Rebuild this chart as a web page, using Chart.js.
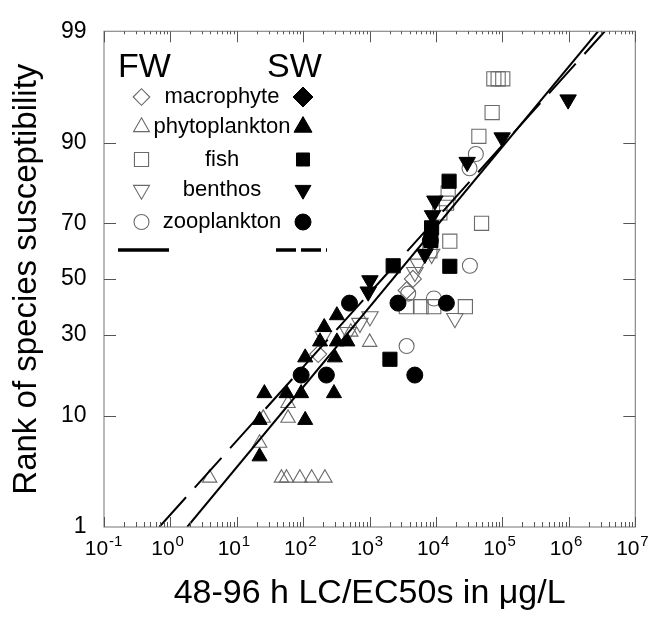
<!DOCTYPE html>
<html>
<head>
<meta charset="utf-8">
<script src="https://cdn.jsdelivr.net/npm/chart.js@4.4.1/dist/chart.umd.min.js"></script>
<style>
  body { margin: 0; background: #fff; }
  #wrap { width: 657px; height: 621px; }
</style>
</head>
<body>
<div id="wrap"><canvas id="ssd" width="657" height="621"></canvas></div>
<script>
/* Species sensitivity: FW (open) vs SW (filled), probit rank axis */

const xTickValues = [0.1, 1, 10, 100, 1e3, 1e4, 1e5, 1e6, 1e7];
const xTickExponents = ['-1', '0', '1', '2', '3', '4', '5', '6', '7'];
const yTickValues = [1, 10, 30, 50, 70, 90, 99];

// x = LC/EC50 in ug/L, y = rank of species susceptibility (%)
const fwMacrophyteX = [168, 3600, 4480];
const fwMacrophyteY = [24.1, 45.8, 50.1];

const fwPhytoX = [3.9, 22, 25, 47, 56, 59, 59, 89, 134, 212, 520, 1000];
const fwPhytoY = [3.1, 6.2, 9.6, 3.1, 3.1, 9.6, 12.2, 3.1, 3.1, 3.1, 31, 27.7];
const swPhytoX = [22, 22, 26, 56, 93, 107, 107, 179, 207, 290, 299, 321, 321, 462];
const swPhytoY = [4.8, 9.3, 14.2, 14.2, 14.2, 9.3, 23.1, 27.9, 32.6, 14.2, 23.1, 36.7, 27.9, 27.9];

const fwFishX = [3570, 5950, 8070, 9230, 11400, 14400, 15200, 16100, 27600, 44100, 48400, 69800, 74100, 86000, 101000];
const fwFishY = [39.8, 39.8, 60.5, 39.8, 73.3, 76.2, 79.0, 63.9, 39.8, 91.0, 70.0, 94.1, 97.0, 97.0, 97.0];
const swFishX = [2020, 2260, 8350, 8560, 15700, 16100];
const swFishY = [22.6, 55.0, 64.2, 68.5, 82.1, 54.8];

const fwBenthosX = [200, 475, 713, 1010, 4800, 5380, 8560, 19200];
const fwBenthosY = [29.7, 30.9, 34.0, 36.3, 52.6, 55.7, 59.3, 35.7];
const swBenthosX = [951, 1010, 6780, 8850, 9590, 29400, 98800, 973000];
const swBenthosY = [45.3, 49.5, 59.3, 72.5, 76.9, 86.4, 90.8, 95.4];

const fwZooX = [3600, 3800, 9270, 32300, 31900, 39700];
const fwZooY = [26.5, 44.6, 42.8, 55.0, 85.1, 88.0];
const swZooX = [93, 223, 497, 2670, 4780, 8200, 14300];
const swZooY = [18.4, 18.4, 41.1, 41.1, 18.4, 64.1, 41.1];

// fitted distributions, end points at the 1% and 99% ranks
const fwLineX = [1.79, 2.75e6];
const fwLineY = [1, 99];
const swLineX = [0.68, 3.47e6];
const swLineY = [1, 99];

const legendRows = [
    { label: 'macrophyte', style: 'rectRot', rot: 0, openR: 8.3, fillR: 10 },
    { label: 'phytoplankton', style: 'triangle', rot: 0, openR: 9.2, fillR: 10.4 },
    { label: 'fish', style: 'rect', rot: 0, openR: 10, fillR: 9.2 },
    { label: 'benthos', style: 'triangle', rot: 180, openR: 9.2, fillR: 9.2 },
    { label: 'zooplankton', style: 'circle', rot: 0, openR: 7.5, fillR: 8 },
];

// inverse normal CDF (Acklam) for the probability axis
function probit(p) {
    const a = [-39.69683028665376, 220.9460984245205, -275.9285104469687, 138.357751867269, -30.66479806614716, 2.506628277459239];
    const b = [-54.47609879822406, 161.5858368580409, -155.6989798598866, 66.80131188771972, -13.28068155288572];
    const c = [-0.007784894002430293, -0.3223964580411365, -2.400758277161838, -2.549671464403861, 4.374664141464968, 2.938163982698783];
    const d = [0.007784695709041462, 0.3224671290700398, 2.445134137142996, 3.754408661907416];
    const pl = 0.02425;
    let q, r;
    if (p < pl) {
        q = Math.sqrt(-2 * Math.log(p));
        return (((((c[0] * q + c[1]) * q + c[2]) * q + c[3]) * q + c[4]) * q + c[5]) / ((((d[0] * q + d[1]) * q + d[2]) * q + d[3]) * q + 1);
    }
    if (p > 1 - pl) {
        q = Math.sqrt(-2 * Math.log(1 - p));
        return -(((((c[0] * q + c[1]) * q + c[2]) * q + c[3]) * q + c[4]) * q + c[5]) / ((((d[0] * q + d[1]) * q + d[2]) * q + d[3]) * q + 1);
    }
    q = p - 0.5;
    r = q * q;
    return (((((a[0] * r + a[1]) * r + a[2]) * r + a[3]) * r + a[4]) * r + a[5]) * q / (((((b[0] * r + b[1]) * r + b[2]) * r + b[3]) * r + b[4]) * r + 1);
}

function toPoints(xs, ys) {
    return xs.map((v, i) => ({ x: v, y: probit(ys[i] / 100) }));
}

const OPEN = '#6a6a6a';

function openSet(label, xs, ys, style, r, rot) {
    return {
        label, data: toPoints(xs, ys), order: 2,
        pointStyle: style, pointRadius: r, pointRotation: rot || 0,
        pointBackgroundColor: 'rgba(0,0,0,0)', pointBorderColor: OPEN, pointBorderWidth: 1.1,
    };
}

function filledSet(label, xs, ys, style, r, rot) {
    return {
        label, data: toPoints(xs, ys), order: 0,
        pointStyle: style, pointRadius: r, pointRotation: rot || 0,
        pointBackgroundColor: '#000', pointBorderColor: '#000', pointBorderWidth: 1,
    };
}

function lineSet(label, xs, ys, dash) {
    return {
        label, data: toPoints(xs, ys), order: 1,
        showLine: true, pointRadius: 0, borderColor: '#000', borderWidth: 2,
        borderDash: dash, fill: false,
    };
}

// ── Frame, inward ticks, exponents and the in-plot legend ─────────────────

const frameAndLegend = {
    id: 'frameAndLegend',
    afterDraw(chart) {
        const { ctx, chartArea: a, scales: { x, y } } = chart;
        ctx.save();

        ctx.strokeStyle = '#8a8a8a';
        ctx.lineWidth = 1.2;
        ctx.strokeRect(a.left, a.top, a.right - a.left, a.bottom - a.top);

        ctx.strokeStyle = '#555';
        ctx.lineWidth = 1;
        ctx.beginPath();
        for (let e = -1; e <= 7; e++) {
            for (let k = 1; k <= 9; k++) {
                const v = k * Math.pow(10, e);
                if (v > 1e7) break;
                const px = Math.round(x.getPixelForValue(v)) + 0.5;
                const major = k === 1;
                ctx.moveTo(px, a.bottom);
                ctx.lineTo(px, a.bottom - (major ? 10 : 5));
                ctx.moveTo(px, a.top);
                ctx.lineTo(px, a.top + (major ? 11 : 3));
            }
        }
        yTickValues.slice(1, -1).forEach(p => {
            const py = Math.round(y.getPixelForValue(probit(p / 100))) + 0.5;
            ctx.moveTo(a.left, py);
            ctx.lineTo(a.left + 12, py);
            ctx.moveTo(a.right, py);
            ctx.lineTo(a.right - 12, py);
        });
        ctx.stroke();

        // exponents of the x tick labels
        ctx.fillStyle = '#000';
        ctx.font = '15px "Liberation Sans", Arial, sans-serif';
        ctx.textAlign = 'left';
        ctx.textBaseline = 'middle';
        xTickValues.forEach((v, i) => {
            ctx.fillText(xTickExponents[i], x.getPixelForValue(v) + 5, 542);
        });

        // legend
        ctx.font = '34px "Liberation Sans", Arial, sans-serif';
        ctx.textBaseline = 'alphabetic';
        ctx.fillText('FW', 118, 77);
        ctx.fillText('SW', 267, 77);

        ctx.font = '22px "Liberation Sans", Arial, sans-serif';
        ctx.textAlign = 'center';
        ctx.textBaseline = 'middle';
        const rowY = [97, 127, 159.5, 190, 222];
        legendRows.forEach((row, i) => {
            const ry = rowY[i];
            ctx.fillStyle = '#000';
            ctx.fillText(row.label, 222, ry);
            ctx.lineWidth = 1.1;
            ctx.strokeStyle = OPEN;
            ctx.fillStyle = 'rgba(0,0,0,0)';
            Chart.helpers.drawPoint(ctx, { pointStyle: row.style, radius: row.openR, rotation: row.rot, borderWidth: 1.1 }, 141.5, ry);
            ctx.lineWidth = 1;
            ctx.strokeStyle = '#000';
            ctx.fillStyle = '#000';
            Chart.helpers.drawPoint(ctx, { pointStyle: row.style, radius: row.fillR, rotation: row.rot, borderWidth: 1 }, 303, ry);
        });

        ctx.strokeStyle = '#000';
        ctx.lineWidth = 3.5;
        ctx.beginPath();
        ctx.moveTo(118, 250);
        ctx.lineTo(169, 250);
        ctx.stroke();
        ctx.setLineDash([20, 5]);
        ctx.beginPath();
        ctx.moveTo(276, 250);
        ctx.lineTo(327, 250);
        ctx.stroke();
        ctx.restore();
    }
};

Chart.defaults.font.family = '"Liberation Sans", Arial, sans-serif';
Chart.defaults.color = '#000';

new Chart(document.getElementById('ssd'), {
    type: 'scatter',
    data: {
        datasets: [
            filledSet('SW phytoplankton', swPhytoX, swPhytoY, 'triangle', 8.7),
            filledSet('SW fish', swFishX, swFishY, 'rect', 10),
            filledSet('SW benthos', swBenthosX, swBenthosY, 'triangle', 9.5, 180),
            filledSet('SW zooplankton', swZooX, swZooY, 'circle', 8),
            lineSet('FW fit', fwLineX, fwLineY, []),
            lineSet('SW fit', swLineX, swLineY, [40, 13]),
            openSet('FW macrophyte', fwMacrophyteX, fwMacrophyteY, 'rectRot', 8.5),
            openSet('FW phytoplankton', fwPhytoX, fwPhytoY, 'triangle', 8.3),
            openSet('FW fish', fwFishX, fwFishY, 'rect', 10),
            openSet('FW benthos', fwBenthosX, fwBenthosY, 'triangle', 9.5, 180),
            openSet('FW zooplankton', fwZooX, fwZooY, 'circle', 7.5),
        ],
    },
    options: {
        responsive: false,
        animation: false,
        layout: { padding: { top: 24, right: 21.5, left: 0, bottom: 0 } },
        plugins: {
            legend: { display: false },
            tooltip: { enabled: false },
        },
        scales: {
            x: {
                type: 'logarithmic',
                position: 'bottom',
                min: 0.1,
                max: 1e7,
                afterBuildTicks: scale => { scale.ticks = xTickValues.map(v => ({ value: v })); },
                afterFit: scale => { scale.height = 94; },
                grid: { display: false, drawTicks: false },
                border: { display: false },
                ticks: {
                    callback: () => '10',
                    font: { size: 21 },
                    color: '#000',
                    padding: 10,
                    labelOffset: -7.5,
                    autoSkip: false,
                    maxRotation: 0,
                    minRotation: 0,
                },
                title: {
                    display: true,
                    text: '48-96 h LC/EC50s in \u03bcg/L',
                    font: { size: 34 },
                    color: '#000',
                    padding: { top: 0, bottom: 7 },
                },
            },
            y: {
                type: 'linear',
                min: probit(0.01),
                max: probit(0.99),
                afterBuildTicks: scale => { scale.ticks = yTickValues.map(p => ({ value: probit(p / 100) })); },
                afterFit: scale => { scale.width = 104; },
                grid: { display: false, drawTicks: false },
                border: { display: false },
                ticks: {
                    callback: (value, index) => String(yTickValues[index]),
                    font: { size: 23 },
                    color: '#000',
                    padding: 17.5,
                },
                title: {
                    display: true,
                    text: 'Rank of species susceptibility',
                    font: { size: 33 },
                    color: '#000',
                    padding: { top: 7, bottom: 0 },
                },
            },
        },
    },
    plugins: [frameAndLegend],
});
</script>
</body>
</html>
